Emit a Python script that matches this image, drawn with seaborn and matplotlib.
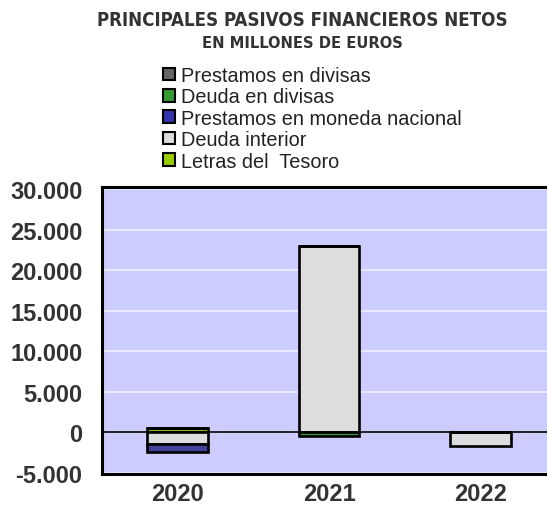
import numpy as np
import pandas as pd
import matplotlib
matplotlib.use("Agg")
import matplotlib.pyplot as plt
import seaborn as sns
from matplotlib.patches import Patch
from matplotlib.ticker import FuncFormatter

years = ["2020", "2021", "2022"]

# series in stacking order (bottom to top), values in millions of euros
letras_tesoro = [600, 0, 0]
deuda_interior = [-1400, 23000, -1650]
prestamos_nacional = [-1050, 0, 0]
deuda_divisas = [0, -400, 0]
prestamos_divisas = [0, 0, 0]

series_names = ["Letras del  Tesoro", "Deuda interior", "Prestamos en moneda nacional",
                "Deuda en divisas", "Prestamos en divisas"]
series_values = [letras_tesoro, deuda_interior, prestamos_nacional,
                 deuda_divisas, prestamos_divisas]
series_colors = ["#99cc00", "#dddddd", "#3333aa", "#339933", "#666666"]

sns.set_style("white")
plt.rcParams["font.family"] = ["Liberation Sans", "DejaVu Sans"]

fig = plt.figure(figsize=(5.47, 5.10), dpi=100)
ax = fig.add_axes([102 / 547, 1 - 475 / 510, 1 - 102 / 547, (475 - 188) / 510])
ax.set_facecolor("#ccccff")

pos_bottom = np.zeros(len(years))
neg_bottom = np.zeros(len(years))
for name, vals, col in zip(series_names, series_values, series_colors):
    vals = np.array(vals, dtype=float)
    bottom = np.where(vals >= 0, pos_bottom, neg_bottom)
    df = pd.DataFrame({"year": years, "value": vals})
    sns.barplot(data=df, x="year", y="value", order=years, color=col,
                width=0.4, bottom=bottom, edgecolor="black", linewidth=1.9,
                ax=ax, errorbar=None, zorder=3)
    pos_bottom += np.where(vals >= 0, vals, 0)
    neg_bottom += np.where(vals < 0, vals, 0)

ax.axhline(0, color="black", linewidth=1.2, zorder=2)
ax.set_xlim(-0.5, 2.44)
ax.set_ylim(-5120, 30250)
ax.set_yticks(np.arange(-5000, 30001, 5000))
ax.yaxis.set_major_formatter(FuncFormatter(lambda v, p: f"{int(v):,}".replace(",", ".")))
ax.grid(axis="y", color="#eeeeff", linewidth=1.2, zorder=1)
ax.set_axisbelow(True)
ax.set_xlabel("")
ax.set_ylabel("")
for s in ["left", "top", "bottom"]:
    ax.spines[s].set_color("black")
    ax.spines[s].set_linewidth(2.2)
ax.spines["right"].set_visible(False)
ax.tick_params(axis="both", length=0, labelsize=17, labelcolor="#333333")
ax.tick_params(axis="y", pad=14)
ax.tick_params(axis="x", pad=6)
for lbl in ax.get_xticklabels() + ax.get_yticklabels():
    lbl.set_fontweight("bold")

title_font = ["DejaVu Sans", "Liberation Sans"]
fig.text(0.553, 1 - 20 / 510, "PRINCIPALES PASIVOS FINANCIEROS NETOS", ha="center",
         va="center", fontsize=13.4, fontweight="bold", fontstretch="condensed",
         color="#333333", family=title_font)
fig.text(0.553, 1 - 43 / 510, "EN MILLONES DE EUROS", ha="center", va="center",
         fontsize=11.8, fontweight="bold", fontstretch="condensed",
         color="#333333", family=title_font)

handles = [Patch(facecolor=c, edgecolor="black", linewidth=1.5, label=n)
           for n, c in zip(series_names[::-1], series_colors[::-1])]
fig.legend(handles=handles, loc="upper left", bbox_to_anchor=(163 / 547, 1 - 67 / 510),
           frameon=False, fontsize=14.3, handlelength=0.6, handleheight=0.6,
           handletextpad=0.3, labelspacing=0.12, borderpad=0, borderaxespad=0,
           labelcolor="#222222")

fig.savefig("out.png", dpi=100)
